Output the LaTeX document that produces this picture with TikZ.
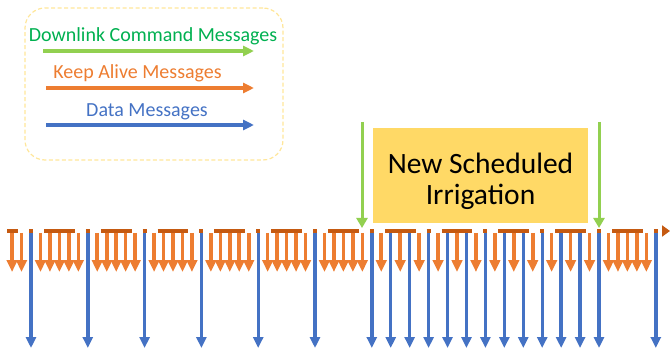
\documentclass[tikz,border=0pt]{standalone}
\usepackage{fontspec}
\setmainfont{Carlito}
\usetikzlibrary{arrows.meta}
\definecolor{korange}{HTML}{ED7D31}
\definecolor{kblue}{HTML}{4472C4}
\definecolor{kdark}{HTML}{C55A11}
\definecolor{kgreen}{HTML}{92D050}
\definecolor{kgreentext}{HTML}{00B050}
\definecolor{kyellow}{HTML}{FFD966}
\definecolor{klegend}{HTML}{FFE699}
\begin{document}
\begin{tikzpicture}[x=1pt,y=-1pt,
  keeparrow/.style={draw=korange,line width=3.6pt,-{Triangle[length=12pt,width=10.5pt]}},
  dataarrow/.style={draw=kblue,line width=3.4pt,-{Triangle[length=11pt,width=10pt]}},
  cmdarrow/.style={draw=kgreen,line width=3pt,-{Triangle[length=10pt,width=11pt]}},
  legarrow/.style={line width=3.4pt,-{Triangle[length=11pt,width=10pt]}},
  legtext/.style={anchor=base,font=\fontsize{20}{24}\selectfont,inner sep=0pt},
  timeline/.style={draw=kdark,line width=3.5pt,dash pattern=on 30.8pt off 11pt on 4pt off 11pt,dash phase=19.8pt,-{Triangle[length=8pt,width=11pt]}}
]
\useasboundingbox (0,0) rectangle (670,350);

% legend
\node[draw=klegend,dash pattern=on 4pt off 2.5pt,line width=1.2pt,rounded corners=20pt,minimum width=258pt,minimum height=152pt,inner sep=0pt] (legend) at (154,84) {};
\node[legtext,text=kgreentext] (lt1) at (153,42) {Downlink Command Messages};
\node[legtext,text=korange] (lt2) at (137.5,79) {Keep Alive Messages};
\node[legtext,text=kblue] (lt3) at (147,117) {Data Messages};
\coordinate (la1-s) at (43,51);  \coordinate (la1-e) at (254,51);
\coordinate (la2-s) at (46,88);  \coordinate (la2-e) at (254,88);
\coordinate (la3-s) at (46,125); \coordinate (la3-e) at (254,125);
\draw[legarrow,draw=kgreen] (la1-s) -- (la1-e);
\draw[legarrow,draw=korange] (la2-s) -- (la2-e);
\draw[legarrow,draw=kblue] (la3-s) -- (la3-e);

% scheduled irrigation box
\node[fill=kyellow,minimum width=215pt,minimum height=95pt,inner sep=0pt] (sched) at (480.5,175.5) {};
\node[align=center,font=\fontsize{29.5}{31}\selectfont,inner sep=0pt] (schedtxt) at (480.5,181) {New Scheduled\\Irrigation};

% timeline
\coordinate (tl-s) at (7,231);
\coordinate (tl-e) at (670,231);
\draw[timeline] (tl-s) -- (tl-e);

% downlink command arrows
\coordinate (g1-s) at (362,122); \coordinate (g1-e) at (362,228);
\coordinate (g2-s) at (599,122); \coordinate (g2-e) at (599,228);
\draw[cmdarrow] (g1-s) -- (g1-e);
\draw[cmdarrow] (g2-s) -- (g2-e);

% keep alive messages
\foreach \k in {-2,-1,1,2,3,4,5,7,8,9,10,11,13,14,15,16,17,19,20,21,22,23,25,26,27,28,29,31,32,33,34,35,37,39,41,43,45,47,49,51,53,55,57,59,61,62,63,64,65} {
  \coordinate (o\k-s) at ({31+\k*9.4667},233);
  \coordinate (o\k-e) at ({31+\k*9.4667},272);
  \draw[keeparrow] (o\k-s) -- (o\k-e);
}
% data messages
\foreach \k in {0,6,12,18,24,30,36,38,40,42,44,46,48,50,52,54,56,58,60,66} {
  \coordinate (b\k-s) at ({31+\k*9.4667},233);
  \coordinate (b\k-e) at ({31+\k*9.4667},348);
  \draw[dataarrow] (b\k-s) -- (b\k-e);
}
\end{tikzpicture}
\end{document}
